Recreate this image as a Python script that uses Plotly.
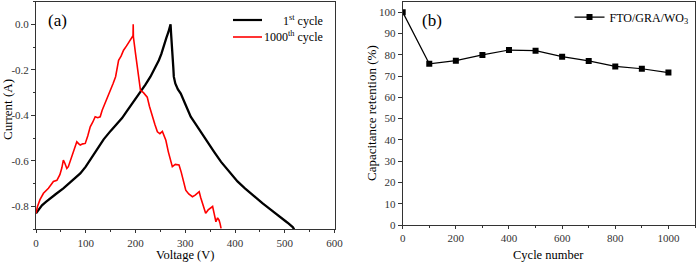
import plotly.graph_objects as go

# ---- Panel (a): current vs voltage ----
black_curve = [
    (0, -0.83), (5, -0.815), (12, -0.795), (20, -0.78), (28, -0.765), (40, -0.745),
    (55, -0.72), (70, -0.69), (89, -0.655), (100, -0.625), (109, -0.596), (122, -0.552),
    (136, -0.505), (150, -0.468), (163, -0.435), (173, -0.412), (183, -0.38), (193, -0.35),
    (200, -0.33), (210, -0.297), (220, -0.265), (230, -0.23), (240, -0.19), (247, -0.158),
    (252, -0.13), (257, -0.09), (262, -0.06), (266, -0.035), (269, -0.015), (270.5, 0.0),
    (271.5, -0.04), (272.5, -0.09), (274, -0.128), (276, -0.19), (277, -0.23), (280, -0.26),
    (285, -0.285), (291, -0.304), (300, -0.35), (311, -0.406), (320, -0.435), (331, -0.472),
    (345, -0.52), (358, -0.56), (372, -0.604), (388, -0.645), (405, -0.69), (420, -0.72),
    (439, -0.757), (455, -0.785), (473, -0.816), (490, -0.843), (505, -0.87), (516, -0.89),
    (519, -0.9),
]
red_curve = [
    (0, -0.83), (3, -0.8), (8, -0.77), (15, -0.742), (25, -0.72), (35, -0.69), (42, -0.685),
    (48, -0.66), (52, -0.63), (55, -0.596), (58, -0.61), (62, -0.633), (65, -0.625),
    (70, -0.59), (76, -0.55), (82, -0.516), (86, -0.525), (89, -0.53), (94, -0.525),
    (99, -0.523), (104, -0.49), (109, -0.45), (114, -0.43), (119, -0.406), (124, -0.41),
    (129, -0.406), (133, -0.377), (140, -0.34), (149.5, -0.297), (155, -0.26), (160, -0.23),
    (166, -0.158), (171, -0.14), (176, -0.114), (182, -0.095), (188, -0.075), (193, -0.058),
    (195, -0.05), (195.4, 0.0), (195.8, -0.056), (200, -0.128), (203, -0.18), (206.7, -0.23),
    (210, -0.29), (216, -0.30), (223.6, -0.32), (228, -0.36), (233.7, -0.406), (239, -0.44),
    (244, -0.472), (249, -0.48), (254, -0.47), (258, -0.49), (261, -0.509), (266, -0.56),
    (270, -0.60), (274, -0.625), (280, -0.615), (287.5, -0.618), (292, -0.65), (296, -0.69),
    (301, -0.728), (307, -0.745), (314.5, -0.757), (320, -0.75), (325, -0.74), (328, -0.735),
    (331, -0.76), (336, -0.80), (341, -0.83), (346, -0.815), (351, -0.805), (355, -0.80),
    (358, -0.83), (361.6, -0.867), (365, -0.85), (368, -0.86), (370, -0.875), (372, -0.896),
]
a_xticks = [0, 100, 200, 300, 400, 500, 600]
a_yticks = [-0.8, -0.6, -0.4, -0.2, 0.0]
a_yticklabels = ["-0.8", "-0.6", "-0.4", "-0.2", "0.0"]

# ---- Panel (b): capacitance retention ----
cycles = [0, 100, 200, 300, 400, 500, 600, 700, 800, 900, 1000]
retention = [100, 75.7, 77.2, 79.9, 82.2, 81.9, 79.1, 77.1, 74.5, 73.4, 71.6]
b_xticks = [0, 200, 400, 600, 800, 1000]
b_yticks = [0, 10, 20, 30, 40, 50, 60, 70, 80, 90, 100]

FONT = "Liberation Serif"
AX = "#333333"
W, H = 697, 262

fig = go.Figure()
fig.add_trace(go.Scatter(x=[p[0] for p in black_curve], y=[p[1] for p in black_curve],
                         mode="lines", line=dict(color="black", width=2.3),
                         xaxis="x", yaxis="y", showlegend=False))
fig.add_trace(go.Scatter(x=[p[0] for p in red_curve], y=[p[1] for p in red_curve],
                         mode="lines", line=dict(color="#ff0000", width=1.6),
                         xaxis="x", yaxis="y", showlegend=False))
fig.add_trace(go.Scatter(x=cycles, y=retention, mode="lines+markers",
                         name="FTO/GRA/WO<sub>3</sub>",
                         line=dict(color="black", width=1.2),
                         marker=dict(symbol="square", size=6, color="black"),
                         xaxis="x2", yaxis="y2", showlegend=True))

axis_common = dict(showline=True, linecolor=AX, linewidth=1, mirror=True,
                   ticks="outside", ticklen=4, tickcolor=AX, showgrid=False,
                   zeroline=False, automargin=False,
                   tickfont=dict(family=FONT, size=11, color=AX))

fig.update_layout(
    width=W, height=H, margin=dict(l=0, r=0, t=0, b=0),
    paper_bgcolor="white", plot_bgcolor="white",
    font=dict(family=FONT, color="black"),
    xaxis=dict(axis_common, domain=[36/W, 334.5/W], range=[0, 600], tickvals=a_xticks,
               ticklen=3,
               minor=dict(ticks="outside", ticklen=2, tickcolor=AX, dtick=50, tick0=0),
               anchor="y"),
    yaxis=dict(axis_common, domain=[1-229.3/H, 1-1.5/H], range=[-0.9, 0.1],
               tickvals=a_yticks, ticktext=a_yticklabels,
               minor=dict(ticks="outside", ticklen=2, tickcolor=AX, dtick=0.1, tick0=0),
               anchor="x"),
    xaxis2=dict(axis_common, domain=[402.7/W, 695/W], range=[0, 1100], tickvals=b_xticks,
                ticklen=3,
                minor=dict(ticks="outside", ticklen=2, tickcolor=AX, dtick=100, tick0=0),
                anchor="y2"),
    yaxis2=dict(axis_common, domain=[1-225/H, 1-1.5/H], range=[0, 105], tickvals=b_yticks,
                anchor="x2"),
    legend=dict(x=0.995, y=0.99, xanchor="right", yanchor="top", bgcolor="rgba(0,0,0,0)",
                font=dict(family=FONT, size=12, color="black"), itemwidth=30,
                tracegroupgap=0),
)

def ptxt(x, y, text, size, angle=0, xanchor="center"):
    fig.add_annotation(xref="paper", yref="paper", x=x / W, y=1 - y / H, xanchor=xanchor,
                       yanchor="middle", showarrow=False, text=text, textangle=angle,
                       borderpad=0, font=dict(family=FONT, size=size, color="black"))

# Axis titles
ptxt(185, 254.5, "Voltage (V)", 12.5)
ptxt(8, 110, "Current (A)", 13, angle=-90)
ptxt(548, 254.5, "Cycle number", 12.5)
ptxt(371, 113, "Capacitance retention (%)", 13, angle=-90)

# Legend for panel (a)
fig.add_shape(type="line", xref="paper", yref="paper", x0=233/W, x1=262/W,
              y0=1-20/H, y1=1-20/H, line=dict(color="black", width=2.2))
fig.add_shape(type="line", xref="paper", yref="paper", x0=233/W, x1=262/W,
              y0=1-37/H, y1=1-37/H, line=dict(color="#ff0000", width=1.6))
ptxt(324, 20, "1<sup>st</sup> cycle", 12, xanchor="right")
ptxt(324, 37, "1000<sup>th</sup> cycle", 12, xanchor="right")

# Panel labels
ptxt(58, 20, "(a)", 17)
ptxt(432, 20, "(b)", 17)

fig.write_html("out.html")
